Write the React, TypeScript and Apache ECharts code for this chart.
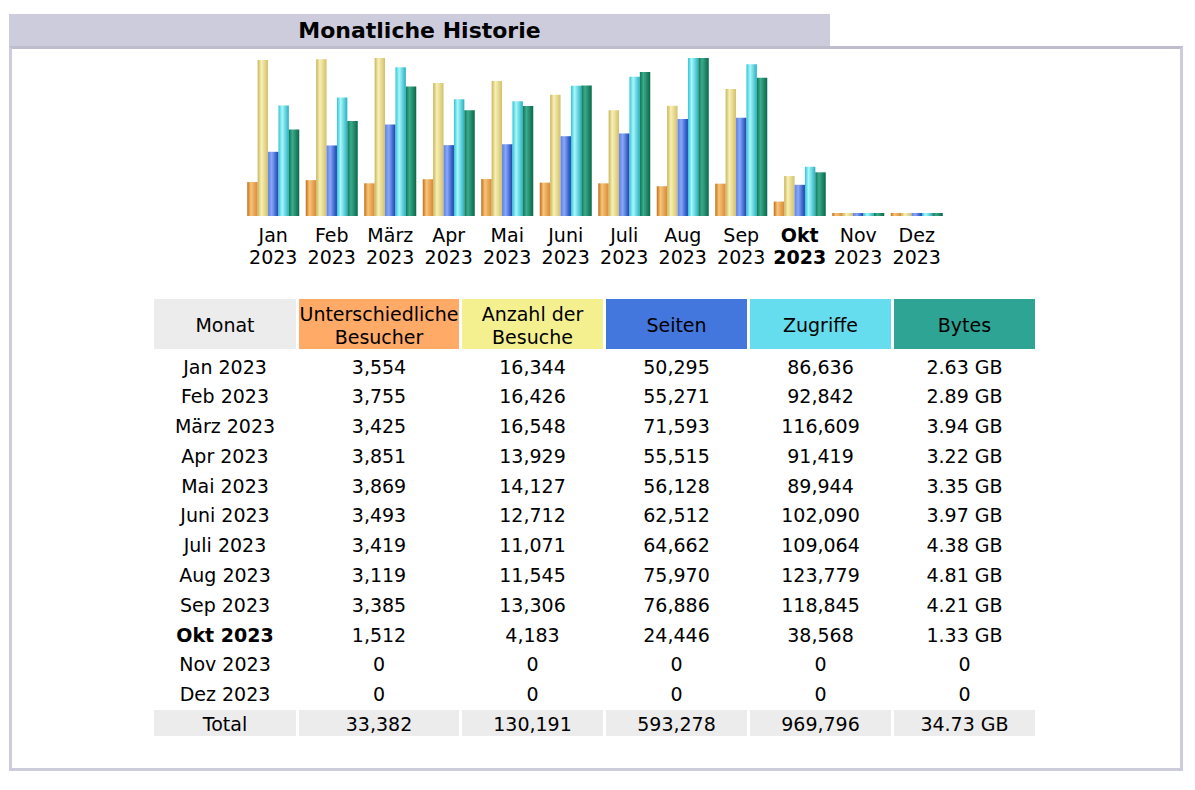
import React, { useEffect, useRef } from "react";
import * as echarts from "echarts";

const months = ["Jan", "Feb", "März", "Apr", "Mai", "Juni", "Juli", "Aug", "Sep", "Okt", "Nov", "Dez"];
const year = "2023";
const currentMonthIndex = 9;
const visitors = [3554, 3755, 3425, 3851, 3869, 3493, 3419, 3119, 3385, 1512, 0, 0];
const visits = [16344, 16426, 16548, 13929, 14127, 12712, 11071, 11545, 13306, 4183, 0, 0];
const pages = [50295, 55271, 71593, 55515, 56128, 62512, 64662, 75970, 76886, 24446, 0, 0];
const hits = [86636, 92842, 116609, 91419, 89944, 102090, 109064, 123779, 118845, 38568, 0, 0];
const bytesGB = [2.63, 2.89, 3.94, 3.22, 3.35, 3.97, 4.38, 4.81, 4.21, 1.33, 0, 0];

const headers = ["Monat", "Unterschiedliche\nBesucher", "Anzahl der\nBesuche", "Seiten", "Zugriffe", "Bytes"];
const headerColors = ["#ECECEC", "#FFAA66", "#F4F090", "#4477DD", "#66DDEE", "#2EA495"];
const colWidths = [142, 160, 141, 141, 141, 141];

const FONT = "'DejaVu Sans', Verdana, sans-serif";

function grad(dark: string, light: string, dark2: string) {
  return new echarts.graphic.LinearGradient(0, 0, 1, 0, [
    { offset: 0, color: dark },
    { offset: 0.35, color: light },
    { offset: 1, color: dark2 },
  ]);
}

const fmtInt = (v: number) => v.toLocaleString("en-US");
const fmtGB = (v: number) => (v === 0 ? "0" : v.toFixed(2) + " GB");
const sum = (a: number[]) => a.reduce((s, v) => s + v, 0);

function Chart() {
  const ref = useRef<HTMLDivElement>(null);
  useEffect(() => {
    if (!ref.current) return;
    const chart = echarts.init(ref.current, undefined, { renderer: "svg" });
    const maxV = Math.max(...visits, ...visitors);
    const maxP = Math.max(...hits, ...pages);
    const maxB = Math.max(...bytesGB);
    const barBase = { type: "bar", barWidth: 10.4, barGap: "0%", barMinHeight: 3 };
    chart.setOption({
      animation: false,
      grid: { left: 244, right: 249, top: 58, bottom: 74 },
      xAxis: {
        type: "category",
        data: months.map((m) => m + "\n" + year),
        axisLine: { show: false },
        axisTick: { show: false },
        axisLabel: {
          interval: 0,
          margin: 8,
          formatter: (v: string, i: number) => {
            const [m, y] = v.split("\n");
            const k = i === currentMonthIndex ? "b" : "n";
            return `{${k}|${m}}\n{${k}|${y}}`;
          },
          rich: {
            n: { fontFamily: FONT, fontSize: 19, color: "#000", lineHeight: 22 },
            b: { fontFamily: FONT, fontSize: 19, fontWeight: "bold", color: "#000", lineHeight: 22 },
          },
        },
      },
      yAxis: [
        { type: "value", min: 0, max: maxV, show: false },
        { type: "value", min: 0, max: maxP, show: false },
        { type: "value", min: 0, max: maxB, show: false },
      ],
      series: [
        { ...barBase, name: "Unterschiedliche Besucher", yAxisIndex: 0, data: visitors, itemStyle: { color: grad("#C06C18", "#F8C478", "#D88A38") } },
        { ...barBase, name: "Anzahl der Besuche", yAxisIndex: 0, data: visits, itemStyle: { color: grad("#C8B45A", "#F8F0B4", "#D2C06C") } },
        { ...barBase, name: "Seiten", yAxisIndex: 1, data: pages, itemStyle: { color: grad("#5C80E8", "#88A8F8", "#1840B0") } },
        { ...barBase, name: "Zugriffe", yAxisIndex: 1, data: hits, itemStyle: { color: grad("#30C4D4", "#A8F8FC", "#28B0C0") } },
        { ...barBase, name: "Bytes", yAxisIndex: 2, data: bytesGB, itemStyle: { color: grad("#0C7858", "#3CAA8C", "#086848") } },
      ],
    });
    return () => chart.dispose();
  }, []);
  return <div ref={ref} style={{ position: "absolute", left: 0, top: 0, width: 1195, height: 290 }} />;
}

export default function App() {
  const rows = months.map((m, i) => [
    m + " " + year,
    fmtInt(visitors[i]),
    fmtInt(visits[i]),
    fmtInt(pages[i]),
    fmtInt(hits[i]),
    fmtGB(bytesGB[i]),
  ]);
  const totals = ["Total", fmtInt(sum(visitors)), fmtInt(sum(visits)), fmtInt(sum(pages)), fmtInt(sum(hits)), fmtGB(Math.round(sum(bytesGB) * 100) / 100)];
  const cell: React.CSSProperties = { padding: 0, textAlign: "center", height: 26.8, lineHeight: "26.8px", whiteSpace: "nowrap" };
  const inner: React.CSSProperties = { position: "relative", top: 1.5 };
  return (
    <div style={{ position: "absolute", left: 0, top: 0, width: 1195, height: 790, background: "#fff", fontFamily: FONT, color: "#000", overflow: "hidden" }}>
      <div style={{ position: "absolute", left: 9, top: 14, width: 821, height: 33, background: "#CCCCDD", display: "flex", alignItems: "center", justifyContent: "center", fontWeight: "bold", fontSize: 22 }}>
        Monatliche Historie
      </div>
      <div style={{ position: "absolute", left: 9, top: 46, width: 1174, height: 725, boxSizing: "border-box", border: "3px solid #CCCCDD", borderTopColor: "#BDBDCC" }} />
      <Chart />
      <table style={{ position: "absolute", left: 151, top: 296, borderCollapse: "separate", borderSpacing: 3, tableLayout: "fixed", fontSize: 19, fontFamily: FONT }}>
        <colgroup>
          {colWidths.map((w, i) => <col key={i} style={{ width: w }} />)}
        </colgroup>
        <thead>
          <tr>
            {headers.map((h, i) => (
              <td key={i} style={{ ...cell, height: 50, lineHeight: "23px", background: headerColors[i], whiteSpace: "pre-line" }}>
                <span style={inner}>{h}</span>
              </td>
            ))}
          </tr>
        </thead>
        <tbody>
          {rows.map((r, ri) => (
            <tr key={ri}>
              {r.map((c, ci) => (
                <td key={ci} style={{ ...cell, fontWeight: ci === 0 && ri === currentMonthIndex ? "bold" : "normal" }}>
                  <span style={inner}>{c}</span>
                </td>
              ))}
            </tr>
          ))}
          <tr>
            {totals.map((c, ci) => (
              <td key={ci} style={{ ...cell, background: "#ECECEC" }}>
                <span style={inner}>{c}</span>
              </td>
            ))}
          </tr>
        </tbody>
      </table>
    </div>
  );
}
